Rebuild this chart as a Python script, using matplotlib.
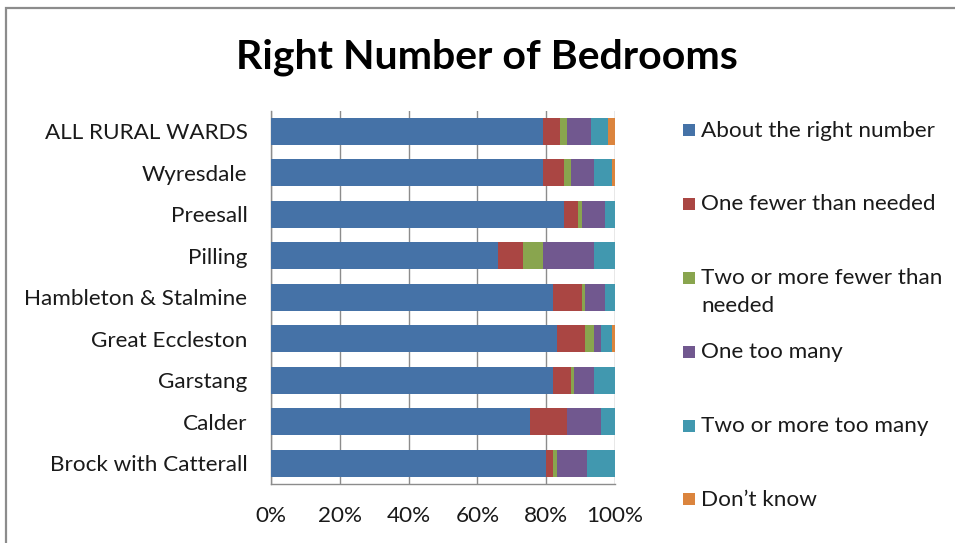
import matplotlib
matplotlib.use("Agg")
import matplotlib.pyplot as plt
from matplotlib.patches import Rectangle
import numpy as np

plt.rcParams['font.family'] = ['Lato', 'DejaVu Sans']

categories = ["ALL RURAL WARDS", "Wyresdale", "Preesall", "Pilling",
              "Hambleton & Stalmine", "Great Eccleston", "Garstang",
              "Calder", "Brock with Catterall"]
series_names = ["About the right number", "One fewer than needed",
                "Two or more fewer than\nneeded", "One too many",
                "Two or more too many", "Don\u2019t know"]
about_right = [79.1, 79.1, 85.1, 66.0, 82.1, 83.1, 82.1, 75.2, 79.9]
one_fewer   = [4.9, 6.0, 4.0, 7.2, 8.2, 8.2, 5.1, 10.9, 2.2]
two_fewer   = [2.1, 2.0, 1.2, 5.8, 1.0, 2.7, 1.0, 0.0, 1.0]
one_many    = [6.9, 6.9, 6.8, 15.0, 5.8, 2.0, 5.8, 9.9, 8.8]
two_many    = [5.1, 5.1, 2.9, 6.5, 2.9, 3.1, 6.2, 4.0, 8.1]
dont_know   = [1.9, 0.9, 0.0, 0.0, 0.0, 0.9, 0.3, 0.0, 0.0]
colors = ["#4572A7", "#AA4643", "#89A54E", "#71588F", "#4198AF", "#DB843D"]
xticks = [0, 20, 40, 60, 80, 100]
xtick_labels = ["0%", "20%", "40%", "60%", "80%", "100%"]

W, H = 955, 543
FS = 16.2
fig = plt.figure(figsize=(W / 100, H / 100), dpi=100)
fig.patch.set_facecolor("white")

# outer chart frame
fig.add_artist(Rectangle((6 / W, -0.05), 1.1, 1 - 8 / H + 0.05,
                         transform=fig.transFigure, fill=False,
                         edgecolor="#8c8c8c", linewidth=1.6))

ax = fig.add_axes([271 / W, 1 - 484 / H, (615 - 271) / W, (484 - 110.5) / H])
data = [about_right, one_fewer, two_fewer, one_many, two_many, dont_know]
y = np.arange(len(categories))
left = np.zeros(len(categories))
for vals, c, name in zip(data, colors, series_names):
    ax.barh(y, vals, left=left, height=0.64, color=c, label=name, zorder=3)
    left += np.array(vals)

ax.set_xlim(0, 100)
ax.set_ylim(len(categories) - 0.5, -0.5)
ax.set_yticks(y)
ax.set_yticklabels(categories, fontsize=FS, color="#1a1a1a")
ax.set_xticks(xticks)
ax.set_xticklabels(xtick_labels, fontsize=FS, color="#1a1a1a")
ax.tick_params(axis="y", length=0, pad=17)
ax.tick_params(axis="x", length=0, pad=16)
ax.grid(axis="x", color="#8c8c8c", linewidth=1.0, zorder=0)
for s in ["top", "right"]:
    ax.spines[s].set_visible(False)
for s in ["left", "bottom"]:
    ax.spines[s].set_color("#8c8c8c")
    ax.spines[s].set_linewidth(1.0)

fig.text(487 / W, 1 - 57 / H, "Right Number of Bedrooms", ha="center",
         va="center", fontsize=29.5, fontweight="bold", color="black")

# legend
leg_y = [130, 204, 278, 352, 426, 499]
for yy, c, name in zip(leg_y, colors, series_names):
    fig.add_artist(Rectangle((683 / W, 1 - (yy + 6) / H), 12 / W, 12 / H,
                             transform=fig.transFigure, facecolor=c,
                             edgecolor="none"))
    for i, line in enumerate(name.split("\n")):
        fig.text(701 / W, 1 - (yy + 6.5 + 28 * i) / H, line, ha="left",
                 va="baseline", fontsize=FS, color="#1a1a1a")

fig.savefig("out.png", dpi=100)
